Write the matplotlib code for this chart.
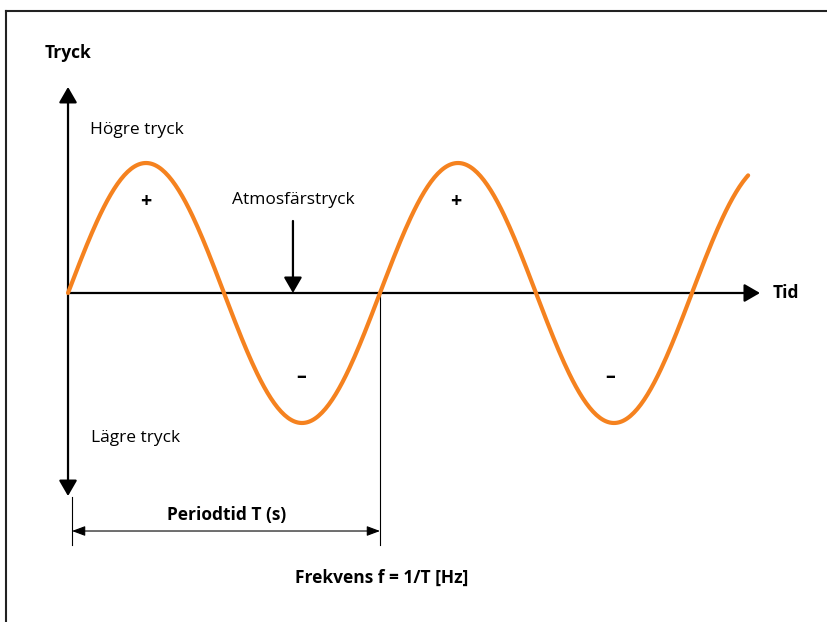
import numpy as np
import matplotlib.pyplot as plt
from matplotlib.lines import Line2D

# time in periods, pressure in amplitudes
period = 1.0
amplitude = 1.0
t_end = 2.18
n_points = 400

# text labels
y_label = "Tryck"
x_label = "Tid"
high_label = "Högre tryck"
low_label = "Lägre tryck"
atm_label = "Atmosfärstryck"
period_label = "Periodtid T (s)"
freq_label = "Frekvens f = 1/T [Hz]"

t = np.linspace(0, t_end, n_points)
p = amplitude * np.sin(2 * np.pi * t / period)

plt.rcParams['font.family'] = ['Open Sans', 'DejaVu Sans']
orange = '#F5821F'

fig = plt.figure(figsize=(8.28, 6.22), dpi=100)
ax = fig.add_axes([0, 0, 1, 1])
ax.set_xlim(-0.218, 2.436)
ax.set_ylim(-2.531, 2.254)
ax.axis('off')

# frame (top and left edge)
fig.add_artist(Line2D([6/828, 1], [1 - 11/622, 1 - 11/622], color='#222222', lw=1.5))
fig.add_artist(Line2D([6/828, 6/828], [0, 1 - 11/622], color='#222222', lw=1.5))

# axes arrows
ax_arrow = dict(arrowstyle='-|>,head_length=0.95,head_width=0.55', color='black',
                lw=1.6, shrinkA=0, shrinkB=0, mutation_scale=10)
ax.annotate('', xy=(0, 1.585), xytext=(0, 0), arrowprops=ax_arrow)
ax.annotate('', xy=(0, -1.562), xytext=(0, 0), arrowprops=ax_arrow)
ax.annotate('', xy=(2.218, 0), xytext=(0, 0), arrowprops=ax_arrow)

# sine wave
ax.plot(t, p, color=orange, lw=3, solid_capstyle='round', zorder=3)

fs = 12.5
ax.text(0, 1.846, y_label, ha='center', va='center', fontsize=fs, fontweight='bold')
ax.text(2.26, 0, x_label, ha='left', va='center', fontsize=fs, fontweight='bold')
ax.text(0.0705, 1.254, high_label, ha='left', va='center', fontsize=fs)
ax.text(0.0737, -1.115, low_label, ha='left', va='center', fontsize=fs)

# atmospheric pressure marker
ax.text(0.721, 0.715, atm_label, ha='center', va='center', fontsize=fs)
ax.annotate('', xy=(0.721, 0.0), xytext=(0.721, 0.554), arrowprops=ax_arrow)

# signs
for x in [0.25, 1.244]:
    ax.text(x, 0.70, '+', ha='center', va='center', fontsize=14, fontweight='bold')
for x in [0.747, 1.737]:
    ax.text(x, -0.646, '–', ha='center', va='center', fontsize=14, fontweight='bold')

# period bracket
ax.plot([0.0128, 0.0128], [-1.569, -1.938], color='black', lw=0.8)
ax.plot([1.0, 1.0], [0, -1.938], color='black', lw=0.8)
ax.annotate('', xy=(0.0128, -1.831), xytext=(1.0, -1.831),
            arrowprops=dict(arrowstyle='<|-|>,head_length=0.8,head_width=0.3', color='black',
                            lw=0.8, shrinkA=0, shrinkB=0, mutation_scale=10))
ax.text(0.51, -1.708, period_label, ha='center', va='center', fontsize=fs, fontweight='bold')
ax.text(1.006, -2.192, freq_label, ha='center', va='center', fontsize=fs, fontweight='bold')

fig.savefig('out.png', dpi=100)
